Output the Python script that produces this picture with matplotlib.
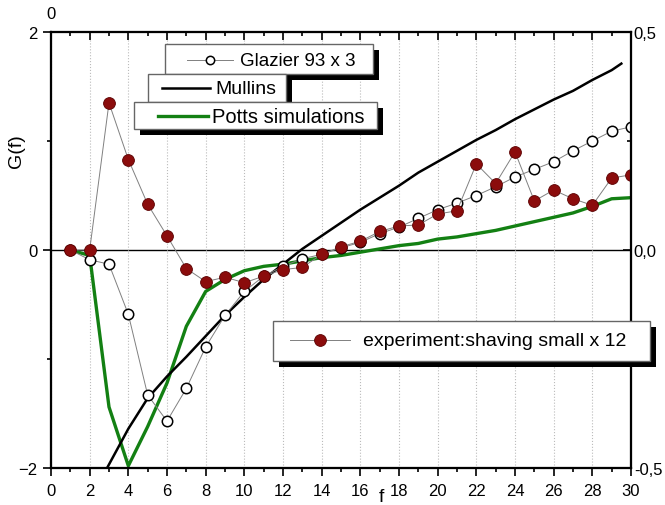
import matplotlib.pyplot as plt
from matplotlib.patches import Rectangle
from matplotlib.lines import Line2D
from matplotlib.ticker import FixedLocator, FuncFormatter

plt.rcParams['font.family'] = ['Liberation Sans', 'DejaVu Sans']

# data
f_exp = list(range(1, 31))
g_exp = [0.0, 0.0, 1.35, 0.83, 0.42, 0.13, -0.17, -0.29, -0.25, -0.30,
         -0.24, -0.18, -0.16, -0.04, 0.03, 0.08, 0.17, 0.22, 0.23, 0.33,
         0.36, 0.79, 0.61, 0.90, 0.45, 0.55, 0.47, 0.41, 0.66, 0.69]

f_glaz = list(range(1, 31))
g_glaz = [0.0, -0.09, -0.13, -0.59, -1.33, -1.57, -1.27, -0.89, -0.60, -0.38,
          -0.24, -0.15, -0.08, -0.04, 0.02, 0.07, 0.15, 0.21, 0.29, 0.37,
          0.43, 0.50, 0.58, 0.67, 0.74, 0.81, 0.91, 1.00, 1.09, 1.13]

f_mull = [2.9, 4, 5, 6, 7, 8, 9, 10, 11, 12, 13, 14, 15, 16, 17, 18, 19, 20,
          21, 22, 23, 24, 25, 26, 27, 28, 29, 29.5]
g_mull = [-2.0, -1.64, -1.36, -1.16, -0.98, -0.79, -0.60, -0.43, -0.27, -0.13,
          0.01, 0.13, 0.25, 0.37, 0.48, 0.59, 0.71, 0.81, 0.91, 1.01, 1.10,
          1.20, 1.29, 1.38, 1.46, 1.56, 1.65, 1.71]

f_potts = list(range(1, 31))
g_potts = [0.0, -0.05, -1.44, -1.98, -1.62, -1.22, -0.70, -0.38, -0.27, -0.19,
           -0.15, -0.13, -0.10, -0.07, -0.05, -0.02, 0.01, 0.04, 0.06, 0.10,
           0.12, 0.15, 0.18, 0.22, 0.26, 0.30, 0.34, 0.40, 0.47, 0.48]

W, H = 665, 506
fig = plt.figure(figsize=(W / 100, H / 100), dpi=100)
x0, x1, y0, y1 = 51, 631, 33, 469
ax = fig.add_axes([x0 / W, 1 - y1 / H, (x1 - x0) / W, (y1 - y0) / H])

red = '#8b0c0c'
green = '#138013'

ax.axhline(0, color='black', lw=1, zorder=1)
ax.plot(f_potts, g_potts, color=green, lw=2.4, zorder=2)
ax.plot(f_mull, g_mull, color='black', lw=1.8, zorder=3)
ax.plot(f_glaz, g_glaz, color='#808080', lw=0.7, marker='o', ms=7.5,
        mfc='white', mec='black', mew=1.1, zorder=4)
ax.plot(f_exp, g_exp, color='#808080', lw=0.7, marker='o', ms=8.5,
        mfc=red, mec='#5a0000', mew=0.6, zorder=5)

ax.set_xlim(0, 30)
ax.set_ylim(-2, 2)
ax.set_xticks(range(0, 31, 2))
ax.set_xticks(range(1, 30, 2), minor=True)
ax.set_yticks([-2, 0, 2])
ax.set_yticks([-1, 1], minor=True)
ax.xaxis.grid(True, ls=':', color='#bbbbbb', lw=0.8)
ax.tick_params(axis='both', which='major', direction='out', length=6, width=1.2,
               labelsize=12, top=False, right=False)
ax.tick_params(axis='x', which='major', pad=5)
ax.tick_params(axis='both', which='minor', direction='out', length=3, width=1.2,
               top=False, right=False)
for s in ax.spines.values():
    s.set_linewidth(1.5)

ax.set_xlabel('f', fontsize=14)
ax.xaxis.set_label_coords(0.569, -0.046)
ax.set_ylabel('G(f)', fontsize=14)
ax.yaxis.set_label_coords(-0.045, 0.73)

# top axis
axt = ax.twiny()
axt.set_xlim(0, 30)
axt.xaxis.set_major_locator(FixedLocator(list(range(0, 31, 2))))
axt.xaxis.set_minor_locator(FixedLocator(list(range(1, 30, 2))))
axt.xaxis.set_major_formatter(FuncFormatter(lambda v, p: '0' if v == 0 else ''))
axt.tick_params(axis='x', which='major', direction='in', length=6, width=1.2,
                labelsize=12, pad=8)
axt.tick_params(axis='x', which='minor', direction='in', length=3, width=1.2)

# right axis
axr = ax.twinx()
axr.set_ylim(-0.5, 0.5)
axr.set_yticks([-0.5, 0.0, 0.5])
axr.set_yticklabels(['-0,5', '0,0', '0,5'])
axr.set_yticks([-0.25, 0.25], minor=True)
axr.tick_params(axis='y', which='major', direction='in', length=6, width=1.2,
                labelsize=12, pad=2)
axr.tick_params(axis='y', which='minor', direction='in', length=3, width=1.2)
for a in (axt, axr):
    for s in a.spines.values():
        s.set_linewidth(1.5)

# legend boxes drawn in pixel space
lax = fig.add_axes([0, 0, 1, 1], zorder=10)
lax.set_xlim(0, W)
lax.set_ylim(H, 0)
lax.axis('off')


def box(bx, by, bw, bh):
    lax.add_patch(Rectangle((bx + 6, by + 6), bw, bh, color='black', lw=0))
    lax.add_patch(Rectangle((bx, by), bw, bh, facecolor='white',
                            edgecolor='#666666', lw=1.0))


box(165, 45, 208, 30)
lax.add_line(Line2D([187, 233], [61, 61], color='#808080', lw=0.7))
lax.plot([210], [61], marker='o', ms=6, mfc='white', mec='black', mew=1.1)
lax.text(240, 61, 'Glazier 93 x 3', fontsize=13.5, va='center')

box(148, 75, 138, 28)
lax.add_line(Line2D([162, 210], [89, 89], color='black', lw=1.8))
lax.text(215, 89, 'Mullins', fontsize=14, va='center')

box(134, 103, 243, 27)
lax.add_line(Line2D([158, 208], [117, 117], color=green, lw=2.4))
lax.text(212, 117, 'Potts simulations', fontsize=14.5, va='center')

box(273, 322, 377, 40)
lax.add_line(Line2D([290, 350], [341, 341], color='#808080', lw=0.7))
lax.plot([320], [341], marker='o', ms=8.5, mfc=red, mec='#5a0000', mew=0.6)
lax.text(363, 341, 'experiment:shaving small x 12', fontsize=14, va='center')

fig.savefig('out.png', dpi=100)
